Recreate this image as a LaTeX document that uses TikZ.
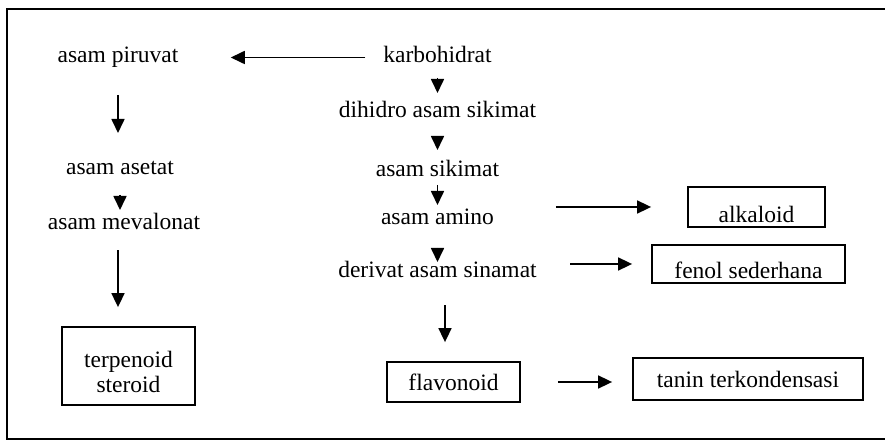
\documentclass[tikz,border=0pt]{standalone}
\usepackage{fontspec}
\setmainfont{Liberation Serif}
\usetikzlibrary{arrows.meta}
\begin{document}
\begin{tikzpicture}[x=0.5pt,y=-0.5pt,
  every node/.style={font=\fontsize{11.75}{12.5}\selectfont},
  txt/.style={inner sep=0pt, anchor=base, text height=8pt, text depth=2.5pt},
  box/.style={draw, line width=0.9pt, inner sep=0pt},
  arr/.style={line width=0.85pt, -{Triangle[length=7pt,width=6.5pt]}},
  frame/.style={line width=1pt}]
\useasboundingbox (0,0) rectangle (885,443);
\draw[frame] (885,9) -- (7,9) -- (7,439) -- (885,439);
% left column
\node[txt] (piruvat) at (118,63) {asam piruvat};
\node[txt] (asetat) at (120,175) {asam asetat};
\node[txt] (mevalonat) at (124,230) {asam mevalonat};
\node[box, minimum width=66.5pt, minimum height=39pt, align=center] (terp) at (128.5,366) {\rule{0pt}{14.5pt}terpenoid\\steroid};
% center column
\node[txt] (karbo) at (437.5,63) {karbohidrat};
\node[txt] (dihidro) at (437.5,118) {dihidro asam sikimat};
\node[txt] (sikimat) at (437.5,177) {asam sikimat};
\node[txt] (amino) at (437.5,225) {asam amino};
\node[txt] (derivat) at (437.5,278) {derivat asam sinamat};
\node[box, minimum width=66.5pt, minimum height=20pt] (flav) at (453.5,382) {flavonoid};
% right column
\node[box, minimum width=68.5pt, minimum height=20pt, text height=16pt, text depth=0pt] (alkaloid) at (756.5,207) {alkaloid};
\node[box, minimum width=96.5pt, minimum height=19pt, text height=15pt, text depth=0pt] (fenol) at (748.5,264) {fenol sederhana};
\node[box, minimum width=115pt, minimum height=21pt] (tanin) at (748,379) {tanin terkondensasi};
% connectors
\draw[arr, shorten <=8.75pt, shorten >=26pt] (karbo.west) -- (karbo.west -| piruvat.east);
\draw[arr, shorten <=18.75pt, shorten >=18.25pt] (piruvat.center) -- (piruvat.center |- asetat.center);
\draw[arr, shorten <=12.75pt, shorten >=7.25pt] (asetat.center) -- (asetat.center |- mevalonat.center);
\draw[arr, shorten <=7.5pt, shorten >=9.5pt] (piruvat.center |- mevalonat.south) -- (piruvat.center |- terp.north);
\draw[arr, shorten <=10.25pt, shorten >=9.75pt] (karbo.center) -- (dihidro.center);
\draw[arr, shorten <=12.25pt, shorten >=10.75pt] (dihidro.center) -- (sikimat.center);
\draw[arr, shorten <=6.75pt, shorten >=7.25pt] (sikimat.center) -- (amino.center);
\draw[arr, shorten <=14.25pt, shorten >=5.25pt] (amino.center) -- (derivat.center);
\draw[arr, shorten <=11pt, shorten >=9.5pt] ([xshift=3.75pt]derivat.south) -- ([xshift=3.75pt]derivat.south |- flav.north);
\draw[arr, shorten <=30.75pt, shorten >=18pt] (amino.east |- alkaloid.west) -- (alkaloid.west);
\draw[arr, shorten <=16.5pt, shorten >=9.5pt] (derivat.east |- fenol.west) -- (fenol.west);
\draw[arr, shorten <=18.5pt, shorten >=10pt] (flav.east) -- (flav.east -| tanin.west);
\end{tikzpicture}
\end{document}
